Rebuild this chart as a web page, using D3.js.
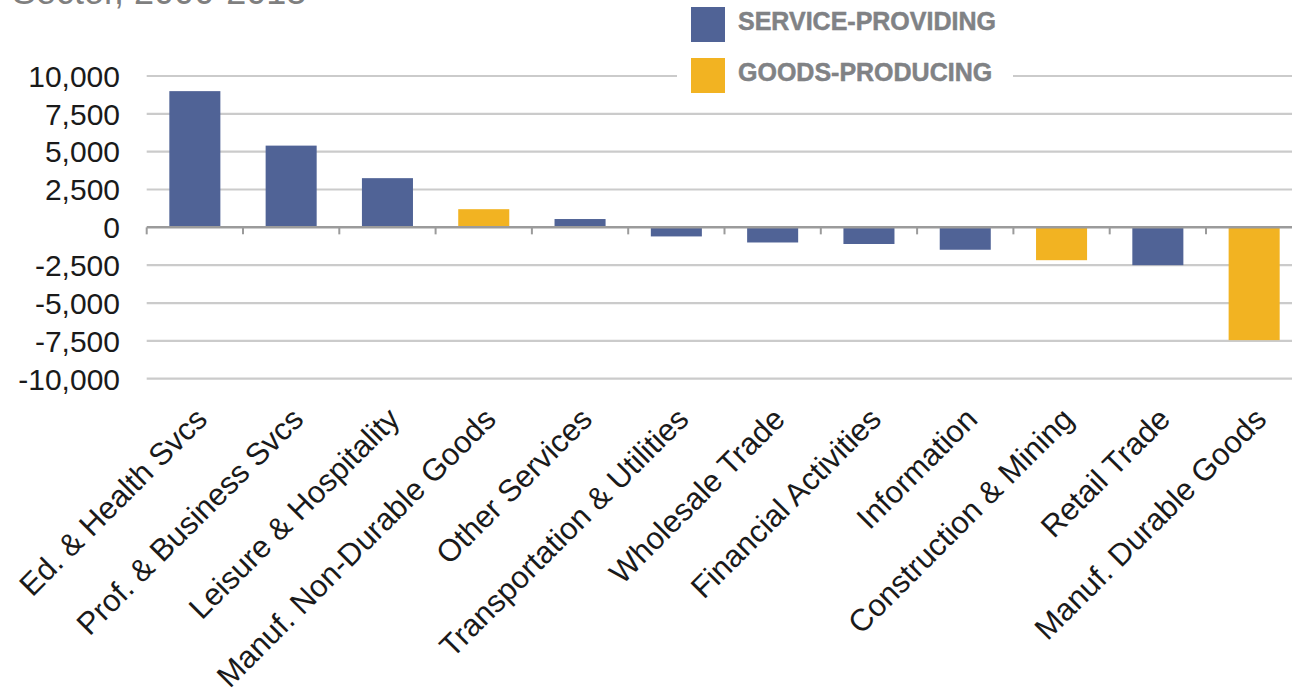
<!DOCTYPE html>
<html><head><meta charset="utf-8">
<script src="https://cdn.jsdelivr.net/npm/d3@7"></script>
<style>
html,body{margin:0;padding:0;background:#fff;}
svg{display:block;font-family:"Liberation Sans",Arial,sans-serif;}
</style></head>
<body>
<svg id="chart" width="1292" height="695"></svg>
<script>
const categories = ["Ed. & Health Svcs","Prof. & Business Svcs","Leisure & Hospitality","Manuf. Non-Durable Goods","Other Services","Transportation & Utilities","Wholesale Trade","Financial Activities","Information","Construction & Mining","Retail Trade","Manuf. Durable Goods"];
const values = [9000, 5400, 3250, 1200, 550, -600, -1000, -1100, -1480, -2170, -2500, -7450];
const groups = ["service","service","service","goods","service","service","service","service","service","goods","service","goods"];
const legendLabels = ["SERVICE-PROVIDING","GOODS-PRODUCING"];
const legendKeys = ["service","goods"];
const yTicks = [10000,7500,5000,2500,0,-2500,-5000,-7500,-10000];
const titleText = "Sector, 2000-2013";

const colors = {service:"#506396", goods:"#F2B322"};
const svg = d3.select("#chart");

const x = d3.scaleBand().domain(categories).range([146.7, 1302.3]).paddingInner(0.47).paddingOuter(0.235);
const y = d3.scaleLinear().domain([-10000, 10000]).range([378.7, 76]);

// title (mostly cut off at the top, as in the reference)
svg.append("text").attr("x", 12).attr("y", 4).attr("font-size", 36).attr("fill", "#7f7f7f").text(titleText);

// gridlines
svg.append("g").selectAll("line").data(yTicks.filter(d => d !== 0)).join("line")
  .attr("x1", 146.7).attr("x2", 1302).attr("y1", d => y(d)).attr("y2", d => y(d))
  .attr("stroke", "#cbcbcb").attr("stroke-width", 2.2);

// y axis labels
const fmt = v => d3.format(",")(v).replace("\u2212", "-");
svg.append("g").selectAll("text").data(yTicks).join("text")
  .attr("x", 120).attr("y", d => y(d)).attr("dy", "0.36em")
  .attr("text-anchor", "end").attr("font-size", 30).attr("fill", "#1a1a1a")
  .text(d => fmt(d));

// bars
svg.append("g").selectAll("rect").data(categories).join("rect")
  .attr("x", d => x(d)).attr("width", x.bandwidth())
  .attr("y", (d, i) => y(Math.max(0, values[i])))
  .attr("height", (d, i) => Math.abs(y(values[i]) - y(0)))
  .attr("fill", (d, i) => colors[groups[i]]);

// zero axis with ticks
const step = x.step();
const bounds = d3.range(categories.length + 1).map(i => 146.7 + i * step);
svg.append("line").attr("x1", 146.7).attr("x2", 1302).attr("y1", y(0)).attr("y2", y(0))
  .attr("stroke", "#9b9b9b").attr("stroke-width", 2.5);
svg.append("g").selectAll("line").data(bounds).join("line")
  .attr("x1", d => d).attr("x2", d => d).attr("y1", y(0)).attr("y2", y(0) + 7)
  .attr("stroke", "#9b9b9b").attr("stroke-width", 2);

// category labels
svg.append("g").selectAll("text").data(categories).join("text")
  .attr("transform", d => `translate(${x(d) + x.bandwidth()/2 + 14},421) rotate(-45)`)
  .attr("text-anchor", "end").attr("font-size", 31).attr("fill", "#1a1a1a")
  .text(d => d);

// legend
const lg = svg.append("g");
lg.append("rect").attr("x", 677).attr("y", 0).attr("width", 336).attr("height", 100).attr("fill", "#fff");
legendKeys.forEach((k, i) => {
  lg.append("rect").attr("x", 691).attr("y", 7 + i * 51).attr("width", 34).attr("height", 35).attr("fill", colors[k]);
  lg.append("text").attr("x", 738).attr("y", 30 + i * 51).attr("font-size", 25).attr("font-weight", "bold")
    .attr("fill", "#808285").attr("stroke", "#808285").attr("stroke-width", 0.5).text(legendLabels[i]);
});
</script>
</body></html>
